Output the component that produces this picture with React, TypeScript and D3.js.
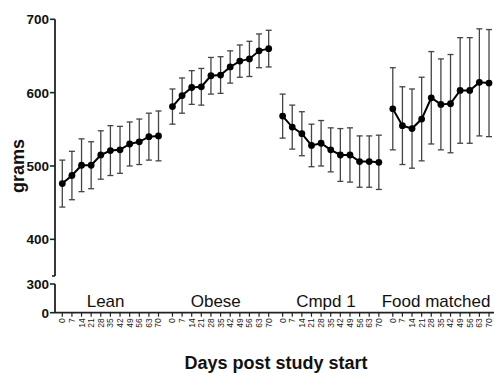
import React from "react";
import * as d3 from "d3";

const days = [0, 7, 14, 21, 28, 35, 42, 49, 56, 63, 70];
const groups = ["Lean", "Obese", "Cmpd 1", "Food matched"];
const leanMean = [476, 487, 501, 501, 515, 521, 522, 530, 533, 540, 541];
const leanErr = [32, 33, 36, 32, 33, 34, 32, 30, 31, 32, 34];
const obeseMean = [581, 596, 607, 608, 623, 624, 635, 643, 646, 657, 660];
const obeseErr = [24, 24, 23, 25, 25, 25, 22, 22, 24, 23, 25];
const cmpdMean = [568, 553, 544, 528, 531, 522, 515, 515, 506, 506, 505];
const cmpdErr = [30, 30, 30, 29, 31, 30, 36, 37, 35, 35, 37];
const foodMean = [578, 555, 551, 564, 593, 584, 585, 603, 603, 614, 613];
const foodErr = [56, 53, 54, 57, 63, 62, 67, 72, 72, 73, 73];
const upperTicks = [400, 500, 600, 700];
const lowerTicks = [0, 300];

const means = [leanMean, obeseMean, cmpdMean, foodMean];
const errs = [leanErr, obeseErr, cmpdErr, foodErr];

const W = 494;
const H = 373;
const FONT = "'Liberation Sans', Arial, Helvetica, sans-serif";
const GROUP_STRIDE = 11.45;

export default function App() {
  const yU = d3.scaleLinear().domain([350, 700]).range([276, 19.3]);
  const yL = d3.scaleLinear().domain([0, 300]).range([312.7, 284]);
  const x = d3
    .scaleLinear()
    .domain([0, 3 * GROUP_STRIDE + 10])
    .range([62.3, 489]);
  const slot = (g: number, i: number) => g * GROUP_STRIDE + i;
  const axisX = 55;
  const baseY = yL(0);

  const line = d3
    .line<number>()
    .x((_, i) => 0)
    .y((d) => yU(d));

  return (
    <svg
      width={W}
      height={H}
      style={{ position: "absolute", left: 0, top: 0, background: "#fff" }}
      fontFamily={FONT}
    >
      {/* Y axis upper segment */}
      <line x1={axisX} x2={axisX} y1={yU(700)} y2={yU(350)} stroke="#222" strokeWidth={1.8} />
      <line x1={axisX - 3} x2={axisX} y1={yU(350)} y2={yU(350)} stroke="#222" strokeWidth={1.6} />
      {upperTicks.map((t) => (
        <g key={"u" + t}>
          <line x1={axisX - 5} x2={axisX} y1={yU(t)} y2={yU(t)} stroke="#222" strokeWidth={1.6} />
          <text x={axisX - 6} y={yU(t)} dy="0.36em" textAnchor="end" fontSize={13.5} fontWeight="bold" fill="#111">
            {t}
          </text>
        </g>
      ))}
      {/* Y axis lower segment */}
      <line x1={axisX} x2={axisX} y1={yL(300)} y2={yL(0)} stroke="#222" strokeWidth={1.8} />
      {lowerTicks.map((t) => (
        <g key={"l" + t}>
          <line x1={axisX - 5} x2={axisX} y1={yL(t)} y2={yL(t)} stroke="#222" strokeWidth={1.6} />
          <text x={axisX - 6} y={yL(t)} dy="0.36em" textAnchor="end" fontSize={13.5} fontWeight="bold" fill="#111">
            {t}
          </text>
        </g>
      ))}
      {/* X axis */}
      <line x1={axisX} x2={W} y1={baseY} y2={baseY} stroke="#222" strokeWidth={1.8} />
      {groups.map((g, gi) => (
        <g key={g}>
          {days.map((d, i) => {
            const px = x(slot(gi, i));
            return (
              <g key={d}>
                <line x1={px} x2={px} y1={baseY} y2={baseY + 4} stroke="#222" strokeWidth={1.2} />
                <text
                  transform={`translate(${px},${baseY + 5.5}) rotate(-90)`}
                  textAnchor="end"
                  dy="0.35em"
                  fontSize={8.5}
                  fill="#222"
                >
                  {d}
                </text>
              </g>
            );
          })}
          <text x={x(slot(gi, 4.5))} y={307.3} textAnchor="middle" fontSize={17} fill="#111">
            {g}
          </text>
        </g>
      ))}
      {/* Data */}
      {means.map((m, gi) => {
        const pts = m.map((v, i) => [x(slot(gi, i)), yU(v)] as [number, number]);
        const path = d3.line()(pts) || "";
        return (
          <g key={"s" + gi}>
            {m.map((v, i) => {
              const px = x(slot(gi, i));
              const e = errs[gi][i];
              return (
                <g key={i} stroke="#444" strokeWidth={1.3}>
                  <line x1={px} x2={px} y1={yU(v + e)} y2={yU(v - e)} />
                  <line x1={px - 3} x2={px + 3} y1={yU(v + e)} y2={yU(v + e)} />
                  <line x1={px - 3} x2={px + 3} y1={yU(v - e)} y2={yU(v - e)} />
                </g>
              );
            })}
            <path d={path} fill="none" stroke="#000" strokeWidth={2} />
            {pts.map((p, i) => (
              <circle key={i} cx={p[0]} cy={p[1]} r={3.4} fill="#000" />
            ))}
          </g>
        );
      })}
      {/* Titles */}
      <text
        transform={`translate(24,166) rotate(-90)`}
        textAnchor="middle"
        fontSize={18}
        fontWeight="bold"
        fill="#111"
      >
        grams
      </text>
      <text x={276} y={369} textAnchor="middle" fontSize={18} fontWeight="bold" fill="#111">
        Days post study start
      </text>
    </svg>
  );
}
